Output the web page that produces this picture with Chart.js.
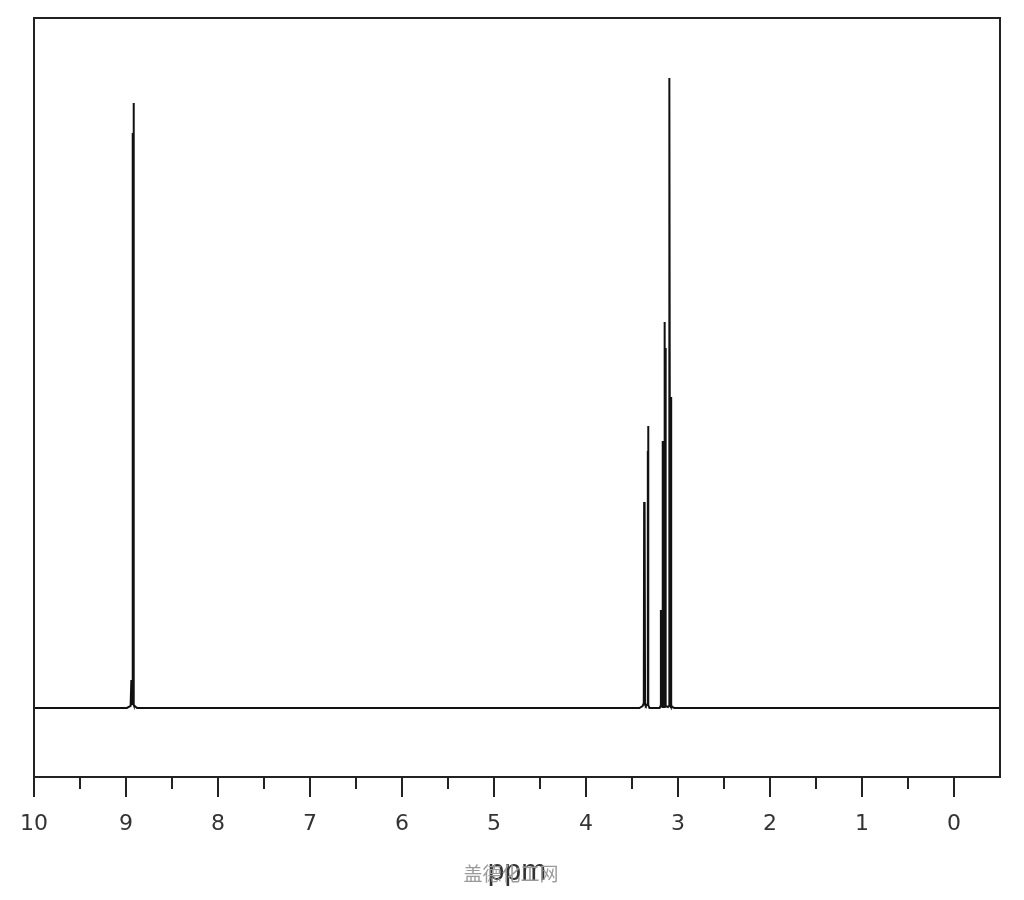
<!DOCTYPE html>
<html>
<head>
<meta charset="utf-8">
<title>1H NMR</title>
<script src="https://cdn.jsdelivr.net/npm/chart.js@4.4.1/dist/chart.umd.min.js"></script>
<style>
  html, body { margin: 0; padding: 0; background: #fff; }
  #wrap { width: 1024px; height: 900px; }
</style>
</head>
<body>
<div id="wrap"><canvas id="nmr" width="1024" height="900"></canvas></div>
<script>
// chemical shift (ppm) and intensity
const shifts = [
  10.0, 8.99, 8.95, 8.942, 8.938, 8.934, 8.929, 8.927, 8.925, 8.92, 8.918, 8.916, 8.914, 8.905, 8.88,
  3.42, 3.385, 3.372, 3.368, 3.366, 3.364, 3.362, 3.360, 3.358, 3.35, 3.332, 3.328, 3.326, 3.324, 3.322, 3.31,
  3.20, 3.19, 3.187, 3.185, 3.183, 3.17, 3.168, 3.166, 3.164, 3.15, 3.147, 3.145, 3.143, 3.139,
  3.136, 3.134, 3.132, 3.11, 3.097, 3.095, 3.093, 3.085, 3.078, 3.076, 3.074, 3.065, 3.04,
  -0.5
];
const intensity = [
  0, 0, 2, 28, 28, 4, 575, 575, 6, 4, 605, 605, 3, 2, 0,
  0, 2, 5, 206, 206, 4, 200, 200, 3, 2, 4, 256, 256, 282, 3, 0,
  0, 2, 3, 98, 2, 1, 267, 267, 2, 1, 386, 386, 2, 2,
  360, 360, 2, 1, 2, 630, 630, 2, 1, 311, 3, 1, 0,
  0
];
const axisLabel = 'ppm';
const watermark = '盖德化工网';
const majorTicks = [10, 9, 8, 7, 6, 5, 4, 3, 2, 1, 0];

const spectrum = shifts.map((s, i) => ({ x: s, y: intensity[i] }));

// frame, tick marks and watermark
const framePlugin = {
  id: 'frame',
  afterDraw(chart) {
    const ctx = chart.ctx;
    const a = chart.chartArea;
    const xs = chart.scales.x;
    ctx.save();
    ctx.strokeStyle = '#222';
    ctx.lineWidth = 2;
    ctx.strokeRect(a.left, a.top, a.right - a.left, a.bottom - a.top);
    ctx.beginPath();
    for (let v = 0; v <= 10; v += 0.5) {
      const px = Math.round(xs.getPixelForValue(v));
      const len = majorTicks.includes(v) ? 20 : 12;
      ctx.moveTo(px, a.bottom);
      ctx.lineTo(px, a.bottom + len);
    }
    ctx.stroke();
    ctx.fillStyle = '#9a9a9a';
    ctx.font = '19px "Noto Sans CJK SC"';
    ctx.textAlign = 'center';
    ctx.textBaseline = 'middle';
    ctx.fillText(watermark, 511, 874);
    ctx.restore();
  }
};

new Chart(document.getElementById('nmr'), {
  type: 'scatter',
  data: {
    datasets: [{
      data: spectrum,
      showLine: true,
      borderColor: '#111',
      borderWidth: 2,
      pointRadius: 0,
      tension: 0
    }]
  },
  options: {
    responsive: false,
    animation: false,
    layout: { padding: { left: 34, right: 24, top: 18, bottom: 0 } },
    plugins: { legend: { display: false }, tooltip: { enabled: false } },
    scales: {
      x: {
        type: 'linear',
        reverse: true,
        min: -0.5,
        max: 10,
        afterFit: function (scale) {
          scale.height = 123;
          scale.paddingLeft = 0;
          scale.paddingRight = 0;
        },
        grid: { display: false },
        border: { display: false },
        ticks: {
          stepSize: 0.5,
          autoSkip: false,
          maxRotation: 0,
          padding: 26,
          color: '#333',
          font: { family: '"DejaVu Sans"', size: 22 },
          callback: v => (majorTicks.includes(v) ? String(v) : '')
        },
        title: {
          display: true,
          text: axisLabel,
          color: '#333',
          font: { family: '"Liberation Sans"', size: 30 },
          padding: { top: 0, bottom: 10 }
        }
      },
      y: {
        display: false,
        min: -69,
        max: 690
      }
    }
  },
  plugins: [framePlugin]
});
</script>
</body>
</html>
